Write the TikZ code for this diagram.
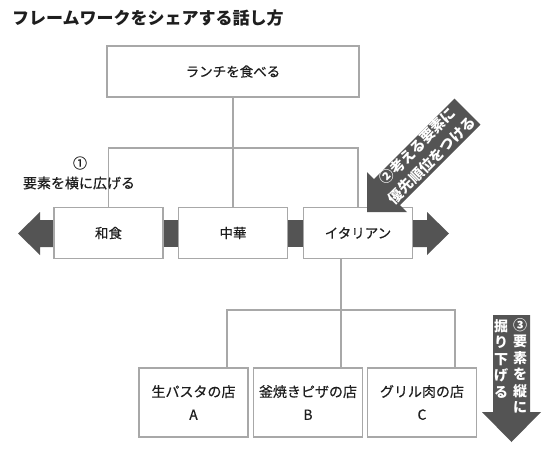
\documentclass[tikz,border=0pt]{standalone}
\usepackage{fontspec}
\setmainfont{Noto Sans CJK JP}
\newfontfamily\medfont{Noto Sans CJK JP}[FakeBold=0.4]
\definecolor{boxgray}{HTML}{A8A8A8}
\definecolor{darkfill}{HTML}{545454}
\definecolor{txt}{HTML}{1E1E1E}
\begin{document}
\begin{tikzpicture}[x=1pt,y=-1pt,
  box/.style={draw=boxgray,line width=1.7pt,fill=white,inner sep=0pt,text=txt,align=center},
  midbox/.style={box,minimum width=109pt,minimum height=51pt,font=\medfont\fontsize{13.5}{16}\selectfont},
  lowbox/.style={box,minimum width=109pt,minimum height=69pt,font=\medfont\fontsize{14}{23}\selectfont},
  conn/.style={draw=boxgray,line width=1.7pt},
  darkarrow/.style={fill=darkfill,draw=none},
  arrowtext/.style={text=white,align=center,inner sep=0pt}]
\useasboundingbox[fill=white] (0,0) rectangle (550,464);

% title
\node[anchor=west,font=\bfseries\fontsize{17}{20}\selectfont,text=txt,inner sep=0pt] (title) at (12,18) {フレームワークをシェアする話し方};

% horizontal dark arrows and links (behind boxes)
\path[darkarrow] (56,220) -- (40,220) -- (40,212) -- (18,233.5) -- (40,255) -- (40,247) -- (56,247) -- cycle;
\path[darkarrow] (410,220) -- (427,220) -- (427,212) -- (449,233.5) -- (427,255) -- (427,247) -- (410,247) -- cycle;
\path[darkarrow] (160,220) rectangle (182,247);
\path[darkarrow] (284,220) rectangle (307,247);

% boxes
\node[box,minimum width=252pt,minimum height=51pt,font=\medfont\fontsize{13.5}{16}\selectfont] (top) at (233,71.5) {ランチを食べる};
\node[midbox] (washoku) at (108.5,233) {和食};
\node[midbox] (chuka) at (233,233) {中華};
\node[midbox] (italian) at (358,233) {イタリアン};
\node[lowbox] (shopA) at (193.5,402.5) {生パスタの店\\A};
\node[lowbox] (shopB) at (308,402.5) {釜焼きピザの店\\B};
\node[lowbox] (shopC) at (422,402.5) {グリル肉の店\\C};

% connectors top level
\coordinate (busL) at (108.5,148);
\coordinate (busR) at (358,148);
\draw[conn] (top.south) -- (chuka.north);
\draw[conn] (washoku.north) -- (busL) -- (busR) -- (italian.north);

% connectors lower level
\coordinate (lowM) at (341,310);
\coordinate (lowL) at (227,310);
\coordinate (lowR) at (455,310);
\draw[conn] (italian.south -| lowM) -- (shopB.north -| lowM);
\draw[conn] (shopA.north -| lowL) -- (lowL) -- (lowR) -- (shopC.north -| lowR);

% label 1
\node[font=\medfont\fontsize{14}{17}\selectfont,text=txt,inner sep=0pt] (lab1a) at (80,163) {①};
\node[font=\medfont\fontsize{14}{17}\selectfont,text=txt,inner sep=0pt] (lab1b) at (79,183) {要素を横に広げる};

% arrow 2 (diagonal)
\path[darkarrow] (367,212) -- (367,172) -- (374,179) -- (454.4,98.6) -- (480.4,124.6) -- (400,205) -- (407,212) -- cycle;
\node[arrowtext,rotate=45,font=\bfseries\fontsize{14.5}{20}\selectfont] (a2text) at (424.7,153.1) {②考える要素に\\優先順位をつける};

% arrow 3 (down)
\path[darkarrow] (493,315) -- (530,315) -- (530,412) -- (541,412) -- (511.5,442) -- (482,412) -- (493,412) -- cycle;
\node[arrowtext,anchor=north,font=\bfseries\fontsize{14}{16.5}\selectfont] (a3r) at (520,318) {③\\要\\素\\を\\縦\\に};
\node[arrowtext,anchor=north,font=\bfseries\fontsize{14}{16.5}\selectfont] (a3l) at (501,319) {掘\\り\\下\\げ\\る};
\end{tikzpicture}
\end{document}
